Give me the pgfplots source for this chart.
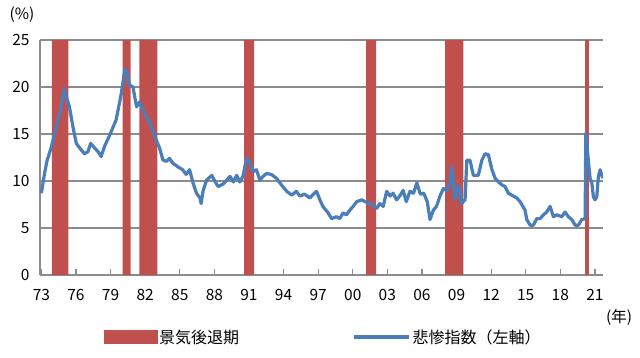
\documentclass[border=0pt]{standalone}
\usepackage{fontspec}
\setmainfont{Noto Sans CJK JP}
\usepackage{pgfplots}
\pgfplotsset{compat=1.18}
\definecolor{recred}{HTML}{C0504D}
\definecolor{lineblue}{HTML}{4A7EBB}
\definecolor{gridgray}{HTML}{8C8C8C}
\pgfplotstableread{
year val
1973.0 8.7
1973.27 10.8
1973.5 12.2
1973.86 13.6
1974.3 15.8
1974.68 17.6
1974.96 19.8
1975.16 19.0
1975.43 17.9
1975.73 15.8
1976.03 14.0
1976.33 13.5
1976.73 12.9
1977.03 13.1
1977.27 14.0
1977.63 13.5
1977.93 13.1
1978.18 12.6
1978.48 13.7
1978.93 14.9
1979.48 16.5
1979.93 19.3
1980.24 21.9
1980.44 21.5
1980.64 20.2
1980.94 20.0
1981.25 17.9
1981.52 18.4
1981.81 17.6
1982.09 16.8
1982.38 16.3
1982.65 15.4
1982.95 14.4
1983.25 13.5
1983.55 12.2
1983.85 12.1
1984.11 12.4
1984.4 11.9
1984.85 11.5
1985.25 11.2
1985.55 10.7
1985.85 11.2
1986.15 9.8
1986.45 8.7
1986.75 8.2
1986.85 7.6
1987.03 9.0
1987.33 10.1
1987.78 10.6
1988.08 9.9
1988.33 9.4
1988.78 9.7
1989.08 10.1
1989.35 10.5
1989.64 9.9
1989.93 10.6
1990.21 9.9
1990.48 10.5
1990.78 12.4
1991.07 12.0
1991.36 11.0
1991.65 11.2
1991.94 10.1
1992.23 10.5
1992.52 10.8
1992.94 10.7
1993.38 10.3
1993.81 9.6
1994.28 8.9
1994.71 8.5
1995.11 8.9
1995.41 8.4
1995.81 8.6
1996.29 8.2
1996.58 8.6
1996.86 8.9
1997.15 8.0
1997.41 7.3
1997.87 6.6
1998.16 6.0
1998.59 6.2
1998.88 6.0
1999.16 6.6
1999.45 6.4
1999.74 6.9
2000.04 7.3
2000.34 7.8
2000.78 8.0
2001.07 7.8
2001.5 7.6
2001.78 7.4
2002.08 7.1
2002.34 7.6
2002.64 7.3
2002.94 8.9
2003.24 8.4
2003.5 8.7
2003.8 8.0
2004.08 8.4
2004.37 9.0
2004.64 7.8
2004.96 8.9
2005.26 8.7
2005.56 9.8
2005.86 8.6
2006.16 8.7
2006.46 7.8
2006.7 5.9
2006.99 6.9
2007.26 7.3
2007.56 8.4
2007.86 9.2
2008.16 9.0
2008.46 9.8
2008.57 11.5
2008.72 10.1
2008.86 8.0
2009.16 9.5
2009.3 9.0
2009.43 7.6
2009.74 8.0
2009.89 12.2
2010.17 12.2
2010.46 10.6
2010.89 10.6
2011.19 12.2
2011.47 12.9
2011.76 12.8
2012.05 11.3
2012.34 10.3
2012.63 9.9
2012.92 9.6
2013.21 9.4
2013.49 8.7
2013.93 8.4
2014.22 8.2
2014.51 7.8
2014.94 6.9
2015.09 5.9
2015.38 5.3
2015.66 5.3
2015.96 6.0
2016.24 6.0
2016.53 6.4
2016.82 6.7
2017.11 7.3
2017.4 6.2
2017.69 6.4
2018.13 6.2
2018.41 6.7
2018.7 6.2
2018.99 5.9
2019.28 5.3
2019.57 5.3
2019.86 5.9
2020.15 6.0
2020.21 15.1
2020.43 12.2
2020.58 10.3
2020.73 9.8
2020.87 8.3
2021.01 8.0
2021.16 8.3
2021.3 10.5
2021.45 11.2
2021.6 10.6
2021.7 10.3
}\misery
\begin{document}
\begin{tikzpicture}[x=1pt,y=1pt]
\useasboundingbox (0,0) rectangle (640,357);
\begin{axis}[
  at={(40pt,82pt)}, anchor=south west,
  scale only axis, width=563pt, height=235pt,
  xmin=1972.88, xmax=2021.7, ymin=0, ymax=25,
  axis lines*=left,
  axis line style={gridgray, line width=1.5pt},
  ymajorgrids, grid style={gridgray, line width=1.5pt},
  xtick={1973,1976,...,2021},
  xticklabels={73,76,79,82,85,88,91,94,97,00,03,06,09,12,15,18,21},
  xtick align=inside, major tick length=6pt,
  tick style={gridgray, line width=1.2pt},
  ytick={0,5,...,25},
  ytick style={draw=none},
  /pgf/number format/assume math mode=true,
  every tick label/.append style={font=\fontsize{15.5}{17}\selectfont},
  xticklabel style={yshift=-11pt},
  yticklabel style={xshift=-7pt},
  legend columns=2,
  legend cell align=left,
  legend style={draw=none, fill=none, at={(axis description cs:0.113,-0.264)}, anchor=west,
    font=\fontsize{16}{19}\selectfont, inner sep=0pt,
    /tikz/every even column/.append style={column sep=111pt}},
]
\addplot[fill=recred, draw=none, forget plot] coordinates {(1973.92,0)(1973.92,25)(1975.34,25)(1975.34,0)} \closedcycle;
\addplot[fill=recred, draw=none, forget plot] coordinates {(1980.05,0)(1980.05,25)(1980.74,25)(1980.74,0)} \closedcycle;
\addplot[fill=recred, draw=none, forget plot] coordinates {(1981.49,0)(1981.49,25)(1983.05,25)(1983.05,0)} \closedcycle;
\addplot[fill=recred, draw=none, forget plot] coordinates {(1990.57,0)(1990.57,25)(1991.44,25)(1991.44,0)} \closedcycle;
\addplot[fill=recred, draw=none, forget plot] coordinates {(2001.15,0)(2001.15,25)(2002.02,25)(2002.02,0)} \closedcycle;
\addplot[fill=recred, draw=none, forget plot] coordinates {(2008.0,0)(2008.0,25)(2009.59,25)(2009.59,0)} \closedcycle;
\addplot[fill=recred, draw=none, forget plot] coordinates {(2020.15,0)(2020.15,25)(2020.47,25)(2020.47,0)} \closedcycle;
\addplot[lineblue, line width=3.2pt, line join=round, forget plot] table[x=year, y=val] {\misery};
\addlegendimage{legend image code/.code={\fill[recred] (0pt,-6.5pt) rectangle (53pt,6.5pt);}}
\addlegendentry{景気後退期}
\addlegendimage{legend image code/.code={\draw[lineblue, line width=3.5pt] (0pt,0pt) -- (55pt,0pt);}}
\addlegendentry{悲惨指数（左軸）}
\end{axis}
\node[font=\fontsize{15.5}{17}\selectfont] at (22,342) {(\%)};
\node[font=\fontsize{15.5}{17}\selectfont] at (619,40) {(年)};
\end{tikzpicture}
\end{document}
